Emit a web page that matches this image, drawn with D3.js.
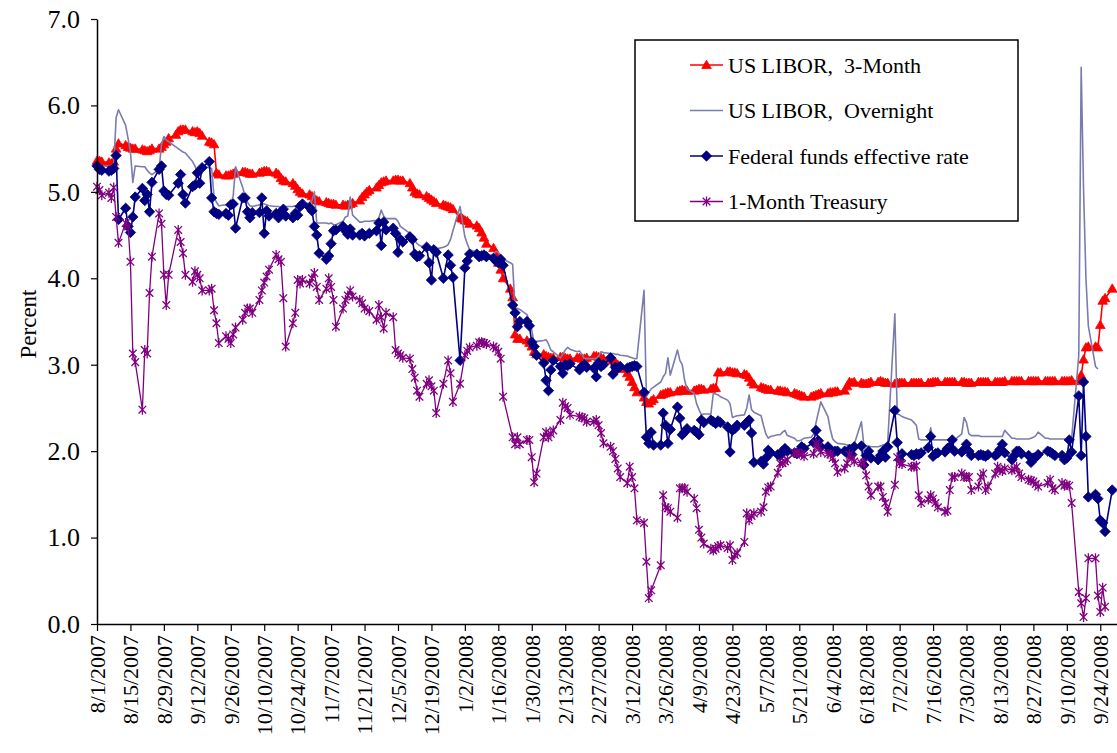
<!DOCTYPE html>
<html><head><meta charset="utf-8">
<script src="https://cdn.jsdelivr.net/npm/d3@7"></script>
<style>
body{margin:0;background:#fff}
text{font-family:"Liberation Serif","Times New Roman",serif;fill:#000}
</style>
</head><body>
<svg id="c" width="1117" height="753"></svg>
<script>
// ---------- DATA (business days from 8/1/2007 to 9/30/2008, one row per week) ----------
const startDate = "2007-08-01";
const endDate = "2008-09-30";
const axisEnd = "2008-10-01";
const tickStart = "2007-08-01";
const tickCount = 31;
const tickStepDays = 14;
const yTicks = [0, 1, 2, 3, 4, 5, 6, 7];
const seriesNames = ["US LIBOR,  3-Month", "US LIBOR,  Overnight", "Federal funds effective rate", "1-Month Treasury"];

const libor3m = [
5.36,5.36,5.35,
5.34,5.33,5.35,5.50,5.56,
5.54,5.52,5.51,5.50,5.50,
5.49,5.48,5.47,5.48,5.50,
5.50,5.52,5.55,5.58,5.62,
5.66,5.70,5.72,5.72,5.72,
5.70,5.69,5.70,5.68,5.65,
5.58,5.57,5.55,5.22,5.20,
5.19,5.19,5.20,5.21,5.23,
5.23,5.23,5.22,5.21,5.21,
5.22,5.23,5.24,5.24,5.23,
5.22,5.20,5.16,5.13,5.12,
5.10,5.07,5.03,5.00,4.98,
4.97,4.95,4.92,4.90,4.89,
4.88,4.87,4.86,4.86,4.85,
4.85,4.84,4.85,4.86,4.87,
4.90,4.94,4.97,5.00,5.02,
5.05,5.08,5.11,5.12,5.13,
5.13,5.14,5.14,5.13,5.13,
5.10,5.05,5.00,4.98,4.97,
4.95,4.93,4.91,4.89,4.87,
4.85,4.84,4.83,4.82,4.80,
4.70,4.69,4.67,4.66,4.63,
4.61,4.58,4.53,4.47,4.40,
4.35,4.28,4.18,4.10,4.00,
3.88,3.78,3.35,3.30,3.30,
3.28,3.25,3.21,3.15,3.12,
3.12,3.10,3.09,3.08,3.08,
3.09,3.09,3.08,3.07,3.07,
3.08,3.08,3.07,3.07,3.08,
3.10,3.10,3.09,3.08,3.07,
3.07,3.05,3.03,3.00,2.95,
2.90,2.86,2.80,2.74,2.68,
2.62,2.57,2.55,2.58,2.60,
2.65,2.66,2.67,2.68,2.68,
2.69,2.70,2.71,2.70,2.70,
2.70,2.71,2.72,2.72,2.71,
2.72,2.73,2.73,2.91,2.91,
2.92,2.92,2.91,2.91,2.90,
2.89,2.88,2.85,2.80,2.77,
2.74,2.73,2.72,2.71,2.71,
2.70,2.70,2.69,2.69,2.68,
2.67,2.66,2.65,2.64,2.63,
2.63,2.64,2.65,2.66,2.67,
2.67,2.68,2.68,2.69,2.69,
2.70,2.75,2.80,2.79,2.80,
2.79,2.78,2.78,2.79,2.80,
2.80,2.81,2.80,2.79,2.79,
2.78,2.79,2.79,2.79,2.79,
2.79,2.79,2.79,2.79,2.79,
2.79,2.79,2.80,2.80,2.80,
2.80,2.80,2.80,2.80,2.80,
2.80,2.80,2.79,2.79,2.79,
2.80,2.80,2.80,2.80,2.80,
2.80,2.80,2.80,2.80,2.81,
2.81,2.81,2.81,2.81,2.81,
2.81,2.81,2.81,2.81,2.81,
2.81,2.81,2.81,2.81,2.81,
2.81,2.81,2.81,2.81,2.82,
2.81,2.88,3.06,3.20,3.21,
3.21,3.20,3.46,3.74,3.77,
3.88,null
];

const liborON = [
5.30,5.31,5.30,
5.30,5.29,5.28,5.86,5.95,
5.77,5.62,5.46,5.11,5.30,
5.29,5.29,5.25,5.22,5.20,
5.26,5.55,5.64,5.60,5.58,
5.52,5.50,5.48,5.46,5.45,
5.35,5.30,5.22,5.25,5.29,
5.28,5.27,4.94,4.88,4.84,
4.85,4.87,4.86,4.95,5.29,
5.05,4.95,4.88,4.84,4.83,
4.85,4.87,4.86,4.85,4.84,
4.83,4.83,4.82,4.82,4.83,
4.83,4.84,4.84,4.85,4.86,
4.87,4.90,5.00,4.64,4.64,
4.64,4.63,4.64,4.62,4.62,
4.66,4.71,4.72,4.94,4.73,
4.65,4.65,4.66,4.66,4.66,
4.67,4.70,4.79,4.72,4.69,
4.69,4.69,4.66,4.60,4.58,
4.52,4.48,4.44,4.40,4.38,
4.35,4.34,4.33,4.33,4.34,
4.36,4.37,4.39,4.45,4.55,
4.83,4.65,4.48,4.40,4.33,
4.30,4.28,4.26,4.25,4.25,
4.28,4.31,4.30,4.27,4.22,
4.18,4.16,3.66,3.65,3.64,
3.58,3.50,3.40,3.25,3.27,
3.28,3.29,3.24,3.17,3.15,
3.08,3.12,3.17,3.20,3.18,
3.15,3.16,3.12,3.07,3.07,
3.07,3.07,3.10,3.15,3.14,
3.13,3.13,3.12,3.12,3.11,
3.10,3.09,3.08,3.07,3.07,
3.86,2.63,2.68,2.72,2.74,
2.80,2.86,2.90,3.08,2.88,
3.17,3.05,3.00,2.82,2.72,
2.67,2.55,2.48,2.42,2.43,
2.43,2.67,2.66,2.65,2.63,
2.59,2.55,2.39,2.40,2.41,
2.42,2.50,2.65,2.48,2.45,
2.41,2.30,2.20,2.15,2.17,
2.19,2.19,2.22,2.24,2.18,
2.15,2.12,2.12,2.13,2.15,
2.16,2.20,2.33,2.45,2.57,
2.40,2.25,2.14,2.11,2.09,
2.08,2.07,2.07,2.07,2.08,
2.34,2.08,2.06,2.06,2.05,
2.05,2.06,2.07,2.08,2.10,
3.59,2.43,2.42,2.40,2.39,
2.36,2.33,2.30,2.14,2.13,
2.13,2.27,2.13,2.13,2.13,
2.13,2.13,2.14,2.13,2.13,
2.20,2.39,2.33,2.20,2.18,
2.18,2.17,2.17,2.17,2.17,
2.17,2.17,2.17,2.17,2.24,
2.15,2.15,2.14,2.14,2.14,
2.14,2.15,2.16,2.18,2.22,
2.15,2.15,2.14,2.14,2.14,
2.14,2.14,2.14,2.14,2.14,
3.11,6.44,5.03,4.00,3.45,
2.98,2.95,null,null,null,
null,null
];

const fedFunds = [
5.30,5.26,5.25,
5.24,5.25,5.27,5.42,4.68,
4.81,4.60,4.53,4.71,4.94,
5.04,4.90,4.97,4.77,5.11,
5.26,5.30,5.01,4.97,4.96,
null,5.10,5.20,4.97,4.87,
5.06,5.08,5.22,5.10,5.28,
5.35,4.93,4.77,4.75,4.74,
4.75,4.73,4.85,4.86,4.58,
4.93,4.93,4.77,4.70,4.76,
4.76,4.93,4.52,4.78,4.72,
4.75,4.70,4.76,4.80,4.72,
4.70,4.75,4.73,4.83,4.86,
4.82,4.78,4.60,4.50,4.29,
4.22,4.26,4.40,4.55,4.56,
4.60,4.55,4.51,4.57,4.50,
4.50,4.52,4.49,null,4.52,
4.55,4.64,4.38,4.65,4.56,
4.58,4.52,4.30,4.45,4.42,
4.48,4.45,4.28,4.25,4.26,
4.36,4.18,3.98,4.33,4.30,
4.00,null,4.27,4.15,4.01,
3.05,null,4.12,4.20,4.28,
4.28,4.25,4.26,4.27,4.25,
4.23,4.20,4.18,4.22,4.15,
null,3.69,3.60,3.44,3.50,
3.50,3.45,3.26,3.21,3.11,
3.02,2.82,2.70,2.94,3.05,
2.98,2.90,3.00,2.99,3.01,
null,2.94,2.98,3.00,2.97,
2.96,2.86,3.02,2.98,3.00,
3.08,2.89,2.97,2.96,2.98,
2.96,2.97,2.98,2.99,2.98,
2.68,2.16,2.09,2.22,2.07,
2.07,2.44,2.30,2.09,2.25,
2.51,2.38,2.19,2.22,2.26,
2.24,2.22,2.19,2.36,2.33,
2.36,2.34,2.32,2.35,2.33,
2.28,1.99,2.24,2.26,2.30,
2.30,2.33,2.36,2.21,1.87,
1.88,1.85,1.92,2.01,1.98,
1.96,1.95,2.00,2.03,2.00,
1.98,1.97,2.00,2.05,2.03,
null,2.10,2.24,2.12,2.05,
2.05,2.00,1.99,2.00,2.00,
2.00,1.98,2.02,1.96,2.05,
2.06,1.84,1.95,2.00,1.92,
1.90,1.95,2.00,1.93,2.05,
2.47,2.10,1.90,1.97,null,
1.96,1.95,1.97,1.96,1.98,
2.04,2.17,1.94,1.97,1.98,
1.99,2.03,2.05,2.13,2.00,
1.99,2.02,2.08,2.00,1.95,
1.95,1.96,1.95,1.94,1.96,
1.95,1.97,2.02,2.08,1.98,
1.90,1.95,2.00,2.00,1.97,
1.95,1.87,1.92,1.93,1.96,
null,2.00,1.99,1.97,1.95,
1.95,1.90,1.92,2.13,1.99,
2.64,1.95,2.80,2.17,1.47,
1.50,1.45,1.20,1.17,1.07,
1.55,null
];

const tbill1m = [
5.06,5.02,4.96,
4.99,4.93,5.05,4.71,4.41,
4.64,4.60,4.19,3.13,3.03,
2.48,3.17,3.13,3.83,4.25,
4.75,4.63,4.04,3.69,4.04,
null,4.56,4.42,4.29,4.04,
3.96,4.08,4.04,4.00,3.86,
3.86,3.88,3.63,3.48,3.25,
3.33,3.30,3.25,3.35,3.43,
3.52,3.60,3.65,3.65,3.60,
3.75,3.86,3.95,4.02,4.10,
4.27,4.22,4.19,3.77,3.21,
3.48,3.60,3.98,3.94,3.98,
3.94,4.00,4.06,3.90,3.75,
3.88,4.00,3.90,3.75,3.44,
3.65,3.75,3.80,3.86,3.79,
3.75,3.71,3.65,null,3.62,
3.52,3.69,3.55,3.42,3.60,
3.55,3.17,3.13,3.11,3.08,
3.07,2.95,2.85,2.70,2.63,
2.78,2.82,2.75,2.70,2.44,
2.78,null,3.05,2.90,2.57,
2.78,null,3.11,3.16,3.20,
3.22,3.26,3.26,3.25,3.24,
3.21,3.19,3.15,3.07,2.63,
null,2.16,2.08,2.16,2.08,
2.13,2.13,1.93,1.64,1.74,
2.16,2.22,2.16,2.20,2.24,
2.36,2.56,2.52,2.50,2.42,
null,2.40,2.39,2.38,2.34,
2.34,2.36,2.30,2.21,2.09,
2.05,2.00,1.91,1.80,1.70,
1.63,1.82,1.70,1.57,1.20,
1.17,0.72,0.30,0.39,null,
0.68,1.49,1.35,1.34,1.30,
1.23,1.57,1.57,1.57,1.53,
1.45,1.34,1.09,1.00,0.93,
0.87,0.85,0.87,0.90,0.91,
0.88,0.91,0.74,0.80,0.82,
0.95,1.28,1.20,1.25,1.28,
1.30,1.35,1.53,1.58,1.59,
1.75,1.86,1.86,1.88,1.90,
1.98,1.98,1.97,1.97,1.94,
null,1.97,2.09,2.05,1.99,
1.97,1.96,1.92,1.86,1.76,
1.80,1.86,1.96,1.92,1.88,
1.86,1.86,1.72,1.59,1.49,
1.59,1.59,1.47,1.40,1.30,
1.61,1.93,1.86,1.85,null,
1.82,1.82,1.83,1.49,1.40,
1.44,1.49,1.45,1.40,1.35,
1.30,1.31,1.55,1.70,1.70,
1.74,1.70,1.70,1.70,1.55,
1.59,1.70,1.74,1.55,1.59,
1.74,1.82,1.78,1.77,1.80,
1.78,1.79,1.82,1.74,1.70,
1.67,1.66,1.65,1.62,1.59,
null,1.63,1.67,1.57,1.55,
1.63,1.60,1.61,1.60,1.40,
0.37,0.24,0.08,0.30,0.76,
0.76,0.33,0.14,0.42,0.20,
null,null
];

// ---------- CHART ----------
const svg = d3.select("#c");
svg.append("rect").attr("width",1117).attr("height",753).attr("fill","#fff");

const parse = d3.utcParse("%Y-%m-%d");
const days = d3.utcDay.range(parse(startDate), d3.utcDay.offset(parse(endDate), 1))
  .filter(d => d.getUTCDay() !== 0 && d.getUTCDay() !== 6);
[libor3m, liborON, fedFunds, tbill1m].forEach((a,i)=>{ if (a.length !== days.length) console.error("length mismatch", i, a.length, days.length); });

const L = 97, R = 1117, T = 19, B = 624;
const x = d3.scaleUtc().domain([parse(startDate), parse(axisEnd)]).range([L, R]);
const y = d3.scaleLinear().domain([0, 7]).range([B, T]);

const toPts = arr => arr.map((v,i)=>({d: days[i], v})).filter(p => p.v !== null && p.v !== undefined);
const line = d3.line().x(p => x(p.d)).y(p => y(p.v));

const triPath = "M0,-4.8L4.8,3.5L-4.8,3.5Z";
const diaPath = "M0,-5.2L5.2,0L0,5.2L-5.2,0Z";
const astPath = "M-3.8,-3.8L3.8,3.8M-3.8,3.8L3.8,-3.8M0,-5L0,5";

const series = [
  {name: seriesNames[0], data: libor3m, color: "#FF0000", width: 1.6, marker: triPath, fill: true},
  {name: seriesNames[1], data: liborON, color: "#7A7CAE", width: 1.6, marker: null},
  {name: seriesNames[2], data: fedFunds, color: "#000080", width: 1.6, marker: diaPath, fill: true},
  {name: seriesNames[3], data: tbill1m, color: "#800080", width: 1.3, marker: astPath, fill: false}
];

const plot = svg.append("g");
series.forEach(s => {
  const pts = toPts(s.data);
  plot.append("path").datum(pts).attr("d", line)
    .attr("fill","none").attr("stroke", s.color).attr("stroke-width", s.width)
    .attr("stroke-linejoin","round");
  if (s.marker) {
    plot.append("g").selectAll("path").data(pts).join("path")
      .attr("transform", p => `translate(${x(p.d)},${y(p.v)})`)
      .attr("d", s.marker)
      .attr("fill", s.fill ? s.color : "none")
      .attr("stroke", s.color)
      .attr("stroke-width", s.fill ? 0.8 : 1.3);
  }
});

// axes
const ticks = d3.range(tickCount).map(i => d3.utcDay.offset(parse(tickStart), i * tickStepDays));
const xAxis = d3.axisBottom(x).tickValues(ticks).tickFormat(d3.utcFormat("%-m/%-d/%Y")).tickSize(7).tickSizeOuter(0);
const gx = svg.append("g").attr("transform", `translate(0,${B})`).call(xAxis);
gx.select(".domain").attr("stroke","#000").attr("stroke-width",1.5);
gx.selectAll(".tick line").attr("stroke","#000").attr("stroke-width",1.2);
gx.selectAll(".tick text")
  .attr("font-size",22)
  .attr("text-anchor","end")
  .attr("transform","rotate(-90)")
  .attr("x",-11).attr("y",0).attr("dy","0.33em");

const yAxis = d3.axisLeft(y).tickValues(yTicks).tickFormat(d3.format(".1f")).tickSize(6).tickSizeOuter(0).tickPadding(11);
const gy = svg.append("g").attr("transform", `translate(${L},0)`).call(yAxis);
gy.select(".domain").attr("stroke","#000").attr("stroke-width",1.5);
gy.selectAll(".tick line").attr("stroke","#000").attr("stroke-width",1.2);
gy.selectAll(".tick text").attr("font-size",26);

svg.append("text").attr("transform","translate(28,324) rotate(-90)")
  .attr("text-anchor","middle").attr("dy","0.35em").attr("font-size",23).text("Percent");

// legend
const lg = svg.append("g");
lg.append("rect").attr("x",635).attr("y",40).attr("width",383).attr("height",181)
  .attr("fill","#fff").attr("stroke","#000").attr("stroke-width",1.5);
const rowsY = [65, 110.5, 156, 201.5];
series.forEach((s,i) => {
  const cy = rowsY[i];
  lg.append("line").attr("x1",690).attr("x2",723).attr("y1",cy).attr("y2",cy)
    .attr("stroke", s.color).attr("stroke-width", 1.6);
  if (s.marker) {
    lg.append("path").attr("d", s.marker).attr("transform",`translate(706.5,${cy})`)
      .attr("fill", s.fill ? s.color : "none").attr("stroke", s.color)
      .attr("stroke-width", s.fill ? 0.8 : 1.3);
  }
  lg.append("text").attr("x",728).attr("y",cy).attr("dy","0.35em")
    .attr("font-size",22).style("white-space","pre").text(s.name);
});
</script>
</body></html>
